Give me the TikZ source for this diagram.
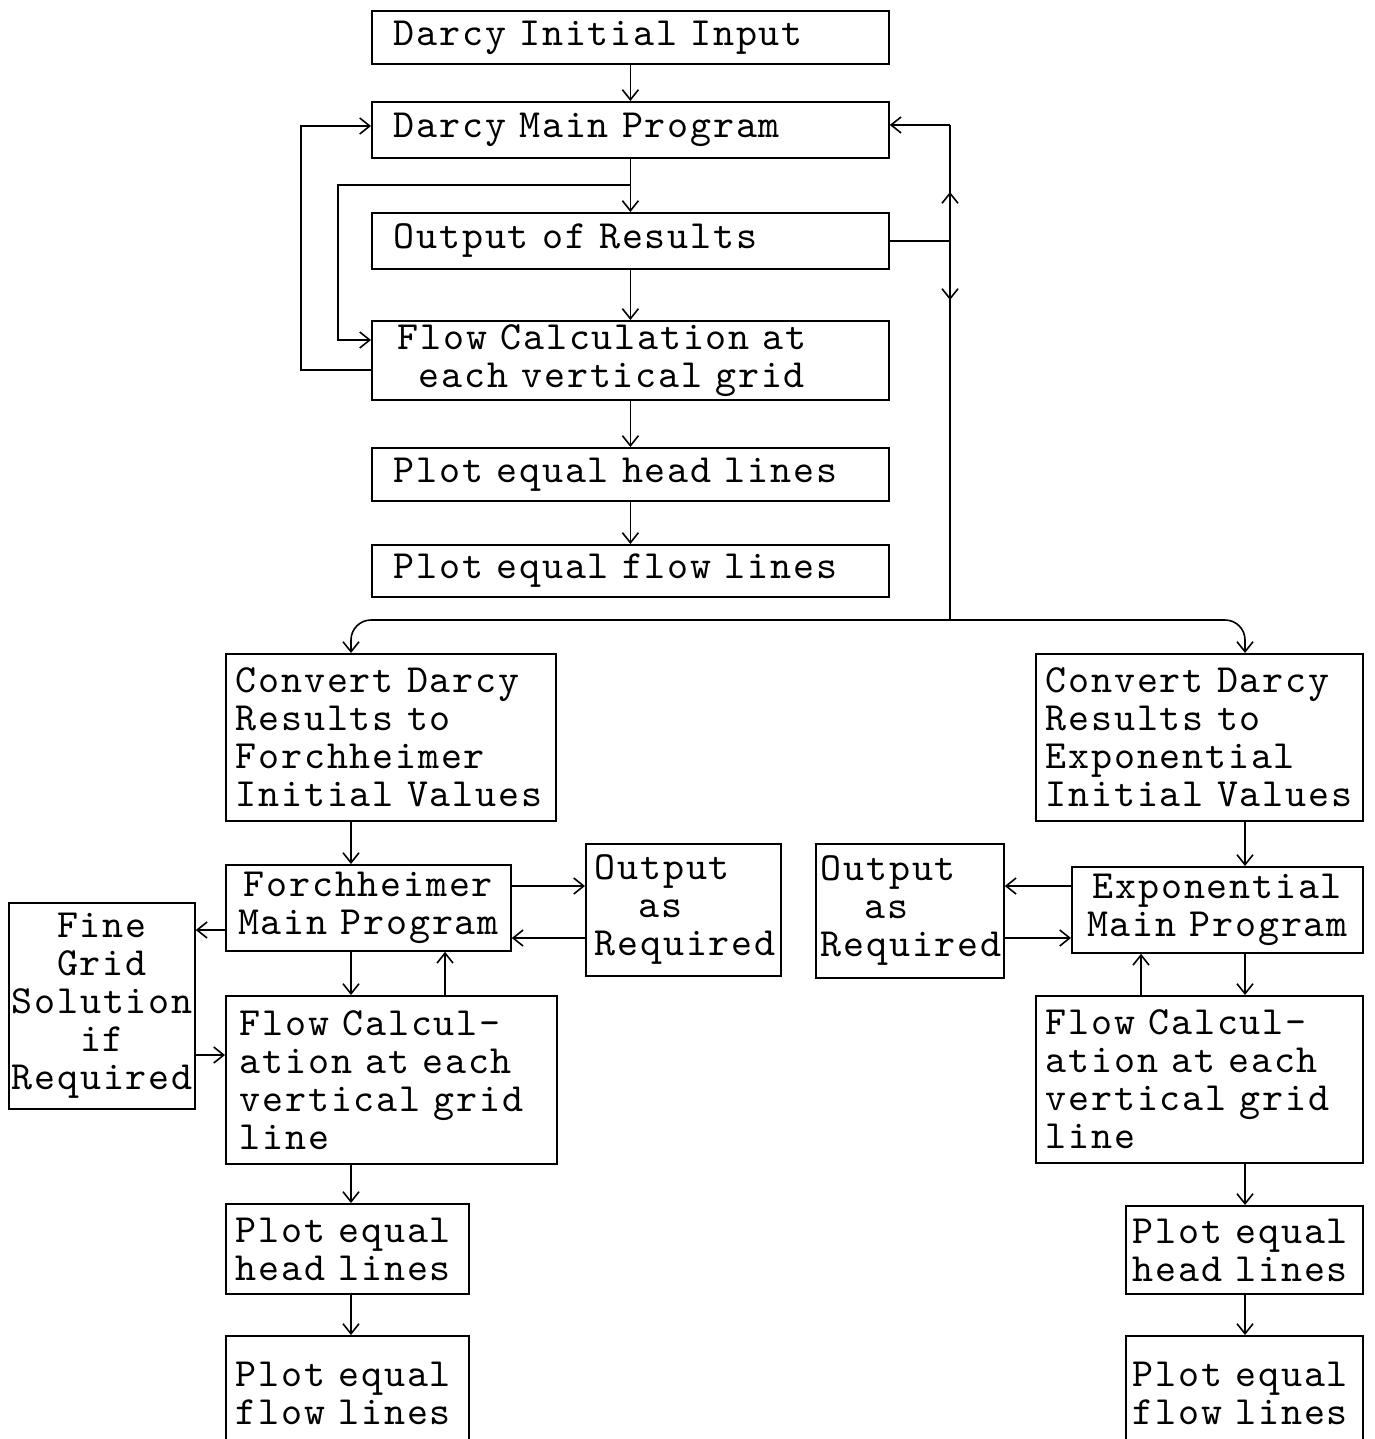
\documentclass[tikz,border=0pt]{standalone}
\usepackage{fontspec}
\newfontfamily\twfont{lmmono10-regular}[Extension=.otf, LetterSpace=4.5]
\newcommand\twset{\twfont\fontsize{40}{38}\selectfont\hyphenpenalty=10000\exhyphenpenalty=10000\relax}
\usetikzlibrary{arrows.meta}
\tikzset{
  box/.style={draw, line width=1.8pt, inner xsep=0pt, inner ysep=0pt, font=\twset},
  arr/.style={line width=1.6pt, -{Straight Barb[length=10pt,width=16pt]}},
  ln/.style={line width=1.6pt}
}
\newcommand\mkbox[8]{%
  \pgfmathsetmacro\bw{#4-#2}\pgfmathsetmacro\bh{#5-#3}\pgfmathsetmacro\tw{#4-#2-2*#6}%
  \node[box, anchor=north west, minimum width=\bw pt, minimum height=\bh pt,
        text width=\tw pt, align=#7] (#1) at (#2,#3) {#8};}
\begin{document}
\begin{tikzpicture}[x=1pt,y=-1pt]
\useasboundingbox (0,0) rectangle (1374,1439);
% top column
\mkbox{init}{371}{10}{888}{63}{22}{left}{Darcy Initial Input}
\mkbox{main}{371}{101}{888}{157}{22}{left}{Darcy Main Program}
\mkbox{ores}{371}{212}{888}{268}{22}{left}{Output of Results}
\mkbox{flow}{371}{320}{888}{399}{26}{left}{Flow Calculation at\\\phantom{x}each vertical grid}
\mkbox{head}{371}{447}{888}{500}{22}{left}{Plot equal head lines}
\mkbox{flowl}{371}{544}{888}{596}{22}{left}{Plot equal flow lines}
% Forchheimer branch
\mkbox{cvF}{225}{653}{555}{820}{10}{left}{Convert~Darcy\\Results~to\\Forchheimer\\Initial~Values}
\mkbox{fmain}{225}{864}{510}{950}{4}{center}{Forchheimer\\Main~Program}
\mkbox{oreqL}{585}{843}{780}{975}{9}{left}{Output\\\phantom{xx}as\\Required}
\mkbox{fine}{8}{902}{194}{1108}{3}{center}{Fine\\Grid\\Solution\\if\\Required}
\mkbox{flowF}{225}{995}{556}{1163}{14}{left}{Flow~Calcul-\\ation~at~each\\vertical~grid\\line}
\mkbox{headF}{225}{1203}{468}{1293}{10}{left}{Plot~equal\\head~lines}
\mkbox{flowlF}{225}{1335}{468}{1450}{10}{left}{Plot~equal\\flow~lines}
% Exponential branch
\mkbox{cvE}{1035}{653}{1362}{820}{10}{left}{Convert~Darcy\\Results~to\\Exponential\\Initial~Values}
\mkbox{emain}{1071}{866}{1362}{952}{4}{center}{Exponential\\Main~Program}
\mkbox{oreqR}{815}{843}{1003}{977}{5}{left}{Output\\\phantom{xx}as\\Required}
\mkbox{flowE}{1035}{995}{1362}{1162}{10}{left}{Flow~Calcul-\\ation~at~each\\vertical~grid\\line}
\mkbox{headE}{1125}{1205}{1362}{1293}{7}{left}{Plot~equal\\head~lines}
\mkbox{flowlE}{1125}{1335}{1362}{1450}{7}{left}{Plot~equal\\flow~lines}
% top column connectors
\draw[arr] (init.south) -- (main.north);
\draw[arr] (main.south) -- (ores.north);
\draw[arr] (ores.south) -- (flow.north);
\draw[arr] (flow.south) -- (head.north);
\draw[arr] (head.south) -- (flowl.north);
\coordinate (la) at (629.5,185);
\draw[arr] (la) -- (338,185) |- (flow.west |- 0,340);
\draw[arr] (flow.west |- 0,370) -- (301,370) |- (main.west |- 0,126);
% right loop
\coordinate (jt) at (950,125);
\coordinate (jm) at (950,241);
\coordinate (jb) at (950,620);
\coordinate (ua) at (950,192);
\coordinate (da) at (950,300);
\draw[arr] (jt) -- (main.east |- jt);
\draw[ln] (ores.east |- jm) -- (jm);
\draw[ln] (jt) -- (jb);
\draw[arr] (jm) -- (ua);
\draw[arr] (jm) -- (da);
\draw[arr, rounded corners=20pt] (jb) -| (351,0 |- cvF.north);
\draw[arr, rounded corners=20pt] (jb) -| (1245,0 |- cvE.north);
% Forchheimer connectors
\draw[arr] (351,0 |- cvF.south) -- (351,0 |- fmain.north);
\draw[arr] (fmain.east |- 0,886) -- (oreqL.west |- 0,886);
\draw[arr] (oreqL.west |- 0,938) -- (fmain.east |- 0,938);
\draw[arr] (fmain.west |- 0,930) -- (fine.east |- 0,930);
\draw[arr] (fine.east |- 0,1055) -- (flowF.west |- 0,1055);
\draw[arr] (351,0 |- fmain.south) -- (351,0 |- flowF.north);
\draw[arr] (445,0 |- flowF.north) -- (445,0 |- fmain.south);
\draw[arr] (351,0 |- flowF.south) -- (351,0 |- headF.north);
\draw[arr] (351,0 |- headF.south) -- (351,0 |- flowlF.north);
% Exponential connectors
\draw[arr] (1245,0 |- cvE.south) -- (1245,0 |- emain.north);
\draw[arr] (emain.west |- 0,886) -- (oreqR.east |- 0,886);
\draw[arr] (oreqR.east |- 0,938) -- (emain.west |- 0,938);
\draw[arr] (1245,0 |- emain.south) -- (1245,0 |- flowE.north);
\draw[arr] (1141,0 |- flowE.north) -- (1141,0 |- emain.south);
\draw[arr] (1245,0 |- flowE.south) -- (1245,0 |- headE.north);
\draw[arr] (1245,0 |- headE.south) -- (1245,0 |- flowlE.north);
\end{tikzpicture}
\end{document}
